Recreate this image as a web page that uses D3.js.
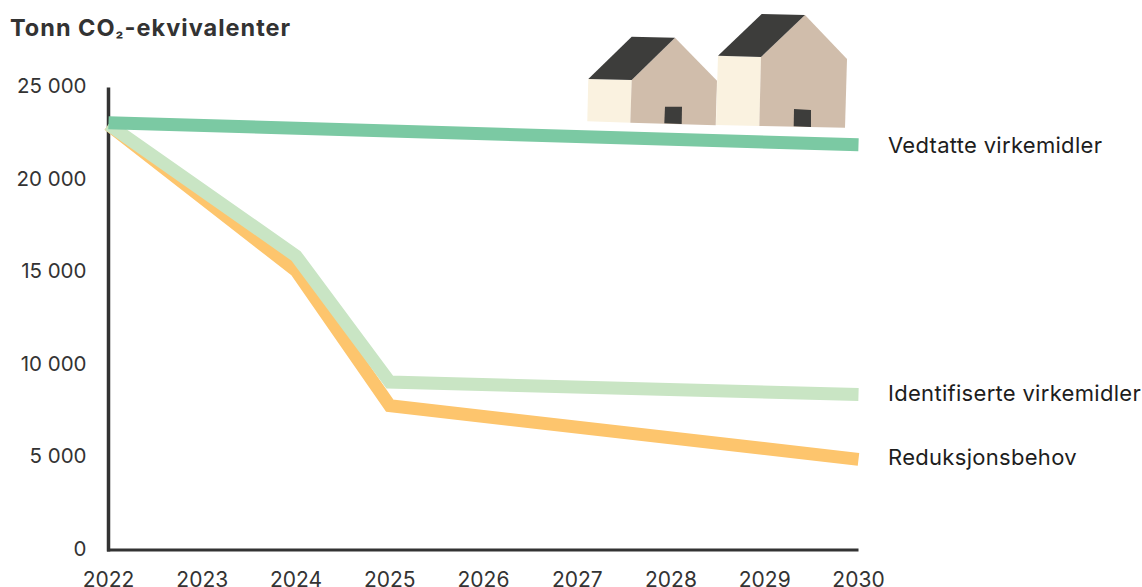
<!DOCTYPE html>
<html><head><meta charset="utf-8">
<script src="https://cdn.jsdelivr.net/npm/d3@7/dist/d3.min.js"></script>
<style>html,body{margin:0;background:#fff}svg{display:block}text{font-family:Inter,sans-serif}</style>
</head><body><svg width="1142" height="587"></svg>
<script>
const years=[2022,2023,2024,2025,2026,2027,2028,2029,2030];
const yTicks=[0,5000,10000,15000,20000,25000];
const anchorYears=[2022,2024,2025,2030];
const vedtatteYears=[2022,2030];
const vedtatte=[23100,21900];
const identifiserte=[23000,15900,9080,8400];
const reduksjon=[23000,15100,7800,4900];
const seriesNames=["Reduksjonsbehov","Identifiserte virkemidler","Vedtatte virkemidler"];
const seriesColors=["#fdc56d","#c9e5c4","#7bc9a3"];
const seriesValues=[reduksjon,identifiserte,vedtatte];
const seriesYears=[anchorYears,anchorYears,vedtatteYears];
const svg=d3.select("svg");
const x=d3.scaleLinear().domain([2022,2030]).range([108.5,858.5]);
const y=d3.scaleLinear().domain([0,25000]).range([550,87.5]);
const fmt=v=>v===0?"0":d3.format(",")(v).replace(",", " ");
const ink="#333333";
const houses=[
 {f:"#faf2e0",p:"588.3,79 631.7,80 630.3,122.7 587.3,121.3"},
 {f:"#d0bdab",p:"631.7,80 675,37.7 717,80.7 715.7,125.3 630.3,122.7"},
 {f:"#3d3d3b",p:"588.3,79 631.7,36.7 675,37.7 631.7,80"},
 {f:"#3d3d3b",p:"665,106.7 682,106.7 681.7,124 664.3,123.3"},
 {f:"#faf2e0",p:"718,55.7 761,57 759.3,126 716,125"},
 {f:"#d0bdab",p:"761,57 805,15 847,59 845,127.7 759.3,126"},
 {f:"#3d3d3b",p:"718,55.7 761.7,14 805,15 761,57"},
 {f:"#3d3d3b",p:"794,109 811,110 811,127 793.7,126.3"}];
svg.append("g").selectAll("polygon").data(houses).join("polygon").attr("points",d=>d.p).attr("fill",d=>d.f);
const line=d3.line().x(d=>x(d[0])).y(d=>y(d[1]));
const ax=svg.append("g");
svg.append("g").selectAll("path").data(seriesValues).join("path")
 .attr("d",(v,i)=>line(v.map((d,j)=>[seriesYears[i][j],d])))
 .attr("fill","none").attr("stroke",(d,i)=>seriesColors[i]).attr("stroke-width",13);
ax.append("line").attr("x1",x(2022)).attr("x2",x(2022)).attr("y1",y(25000)).attr("y2",y(0)+1.5).attr("stroke",ink).attr("stroke-width",3.5);
ax.append("line").attr("x1",x(2022)-1.5).attr("x2",x(2030)).attr("y1",y(0)).attr("y2",y(0)).attr("stroke",ink).attr("stroke-width",3);
svg.append("g").selectAll("text").data(yTicks).join("text")
 .attr("x",86.5).attr("y",d=>y(d)+5.5).attr("text-anchor","end").attr("font-size",20.5).attr("font-weight",400).attr("fill",ink).text(fmt);
svg.append("g").selectAll("text").data(years).join("text")
 .attr("x",d=>x(d)).attr("y",586.5).attr("text-anchor","middle").attr("font-size",21).attr("fill",ink).text(d=>d);
const title=svg.append("text").attr("x",10).attr("y",36).attr("font-size",23.5).attr("font-weight",700).attr("letter-spacing",1).attr("fill",ink);
title.append("tspan").text("Tonn CO");
title.append("tspan").attr("font-size",17).text("₂");
title.append("tspan").text("-ekvivalenter");
const labelY=[457,393.5,145.5];
svg.append("g").selectAll("text").data(seriesNames).join("text")
 .attr("x",888).attr("y",(d,i)=>labelY[i]+7.5).attr("font-size",22).attr("letter-spacing",0.3).attr("fill","#1d1d1d").text(d=>d);
</script></body></html>
